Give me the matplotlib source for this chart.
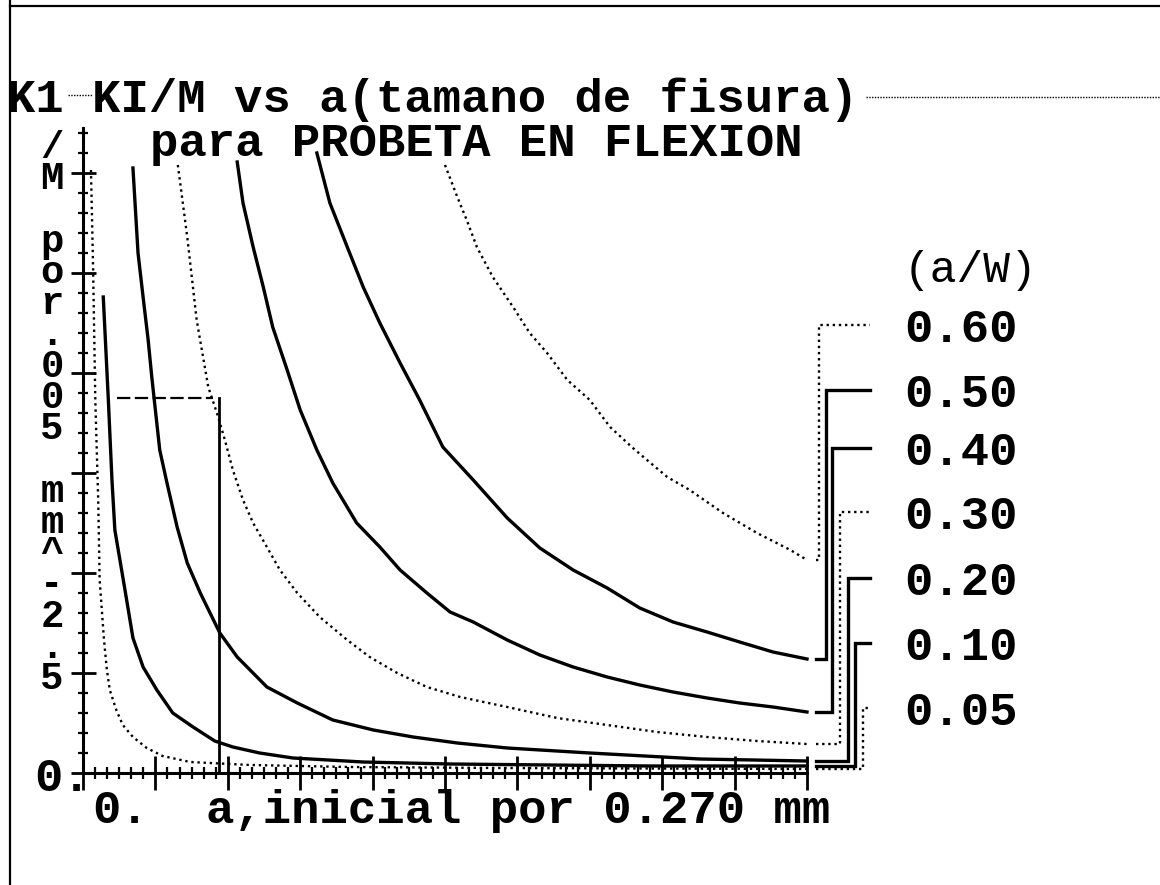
import matplotlib
matplotlib.use("Agg")
import matplotlib.pyplot as plt
from matplotlib.lines import Line2D
from matplotlib.ticker import MultipleLocator

# ---- data: K1/M versus initial crack size, one curve per a/W ratio ----
ratios = ["0.05", "0.10", "0.20", "0.30", "0.40", "0.50", "0.60"]

a_005 = [0.11, 0.14, 0.17, 0.21, 0.23, 0.29, 0.33, 0.37, 0.46, 0.55, 0.69, 0.88,
         1.10, 1.48, 2.31, 3.69, 5.76, 10.0]
k_005 = [6.03, 5.03, 3.73, 2.73, 1.93, 1.33, 1.03, 0.83, 0.63, 0.48, 0.36, 0.25,
         0.17, 0.11, 0.08, 0.06, 0.05, 0.04]

a_010 = [0.28, 0.35, 0.40, 0.44, 0.51, 0.58, 0.69, 0.83, 1.02, 1.24, 1.52, 1.82,
         2.07, 2.44, 2.90, 3.87, 5.07, 6.45, 7.83, 10.0]
k_010 = [4.76, 3.73, 2.93, 2.43, 2.13, 1.83, 1.35, 1.06, 0.83, 0.60, 0.46, 0.32,
         0.26, 0.20, 0.15, 0.11, 0.09, 0.08, 0.07, 0.07]

a_020 = [0.69, 0.76, 0.83, 0.90, 0.95, 1.06, 1.16, 1.30, 1.44, 1.62, 1.89, 2.13,
         2.54, 2.96, 3.45, 4.01, 4.56, 5.17, 5.86, 7.00, 8.52, 10.0]
k_020 = [6.05, 5.20, 4.76, 4.33, 3.96, 3.23, 2.90, 2.46, 2.10, 1.80, 1.40, 1.16,
         0.86, 0.70, 0.53, 0.43, 0.36, 0.30, 0.25, 0.20, 0.14, 0.12]

a_030 = [1.31, 1.44, 1.57, 1.73, 1.85, 1.96, 2.07, 2.21, 2.35, 2.54, 2.72, 2.96,
         3.27, 3.65, 3.96, 4.34, 4.75, 5.21, 5.86, 6.55, 7.24, 7.93, 8.62, 9.31, 10.0]
k_030 = [6.08, 5.36, 4.53, 3.86, 3.60, 3.33, 3.03, 2.73, 2.50, 2.26, 2.03, 1.80,
         1.56, 1.33, 1.16, 1.00, 0.86, 0.76, 0.66, 0.55, 0.48, 0.41, 0.36, 0.32, 0.29]

a_040 = [2.13, 2.21, 2.35, 2.49, 2.62, 2.82, 3.00, 3.23, 3.45, 3.78, 4.10, 4.38,
         4.75, 5.07, 5.39, 5.86, 6.31, 6.77, 7.24, 7.69, 8.15, 8.62, 9.07, 9.53, 10.0]
k_040 = [6.11, 5.70, 5.26, 4.86, 4.46, 4.03, 3.63, 3.23, 2.90, 2.50, 2.26, 2.03,
         1.80, 1.61, 1.51, 1.33, 1.18, 1.06, 0.96, 0.88, 0.81, 0.75, 0.70, 0.66, 0.61]

a_050 = [3.23, 3.41, 3.65, 3.87, 4.10, 4.38, 4.65, 4.97, 5.39, 5.86, 6.31, 6.77,
         7.24, 7.69, 8.15, 8.62, 9.07, 9.53, 10.0]
k_050 = [6.20, 5.70, 5.26, 4.86, 4.50, 4.10, 3.73, 3.26, 2.93, 2.55, 2.25, 2.03,
         1.85, 1.65, 1.51, 1.41, 1.31, 1.21, 1.14]

a_060 = [5.00, 5.17, 5.30, 5.44, 5.66, 5.94, 6.17, 6.41, 6.69, 7.00, 7.28, 7.58,
         7.79, 8.07, 8.38, 8.84, 9.31, 9.77, 10.0]
k_060 = [6.08, 5.76, 5.53, 5.26, 4.96, 4.66, 4.40, 4.20, 3.93, 3.73, 3.46, 3.26,
         3.13, 2.96, 2.83, 2.60, 2.40, 2.23, 2.13]

# reference cursor drawn on the chart
cursor_a0, cursor_a, cursor_k = 0.47, 1.88, 3.75

# ---- layout ----
W, H = 1160, 885
def fx(px):
    return px / W
def fy(py):
    return 1 - py / H

FONT = "Liberation Mono"
FS = 34

curves = [(a_005, k_005), (a_010, k_010), (a_020, k_020), (a_030, k_030),
          (a_040, k_040), (a_050, k_050), (a_060, k_060)]
dotted = [True, False, False, True, False, False, True]
label_y = [0.60, 1.25, 1.90, 2.56, 3.20, 3.78, 4.43]
bracket_x = [10.77, 10.66, 10.57, 10.46, 10.35, 10.26, 10.17]

fig = plt.figure(figsize=(W / 100, H / 100), dpi=100)
fig.patch.set_facecolor("white")

ax = fig.add_axes([fx(83), fy(773), fx(807) - fx(83), 645 / H])
ax.set_xlim(0, 10)
ax.set_ylim(0, 6.45)
ax.set_facecolor("none")
for s in ("top", "right"):
    ax.spines[s].set_visible(False)
for s in ("left", "bottom"):
    ax.spines[s].set_linewidth(2.2)
    ax.spines[s].set_color("black")

ax.xaxis.set_major_locator(MultipleLocator(1))
ax.xaxis.set_minor_locator(MultipleLocator(1 / 6))
ax.yaxis.set_major_locator(MultipleLocator(1))
ax.yaxis.set_minor_locator(MultipleLocator(0.2))
ax.tick_params(axis="x", which="major", direction="inout", length=24, width=2.0,
               labelbottom=False)
ax.tick_params(axis="x", which="minor", direction="inout", length=8, width=1.6)
ax.tick_params(axis="y", which="major", direction="inout", length=18, width=2.0,
               labelleft=False)
ax.tick_params(axis="y", which="minor", direction="inout", length=7, width=1.6)

for (a, k), dot, ly, bx in zip(curves, dotted, label_y, bracket_x):
    if dot:
        kw = dict(color="black", lw=1.7, linestyle=(0, (1, 1.6)))
    else:
        kw = dict(color="black", lw=2.4, linestyle="-")
    ax.plot(a, k, clip_on=False, **kw)
    # connector from curve end to its ratio label
    ax.plot([10.12, bx, bx, 10.87], [k[-1], k[-1], ly + 0.05, ly + 0.05],
            clip_on=False, solid_joinstyle="miter", **kw)

# cursor
ax.plot([cursor_a0, cursor_a - 0.08], [cursor_k, cursor_k], color="black", lw=1.6,
        linestyle=(0, (6, 2)))
ax.plot([cursor_a, cursor_a], [cursor_k, 0], color="black", lw=2.0)

# ---- frame lines ----
fig.add_artist(Line2D([fx(10), fx(1160)], [fy(6), fy(6)], color="black", lw=1.6))
fig.add_artist(Line2D([fx(10), fx(10)], [fy(0), fy(885)], color="black", lw=1.6))
fig.add_artist(Line2D([fx(68), fx(92)], [fy(95), fy(95)], color="black", lw=1.0,
                      linestyle=(0, (1, 1))))
fig.add_artist(Line2D([fx(866), fx(1160)], [fy(97), fy(97)], color="black", lw=1.0,
                      linestyle=(0, (1, 1))))

# ---- text ----
tk = dict(family=FONT, weight="bold", fontsize=FS, color="black", va="baseline",
          ha="left")
fig.text(fx(7), fy(112), "K1 KI/M vs a(tamano de fisura)", **tk)
fig.text(fx(150), fy(156), "para PROBETA EN FLEXION", **tk)
fig.text(fx(34), fy(791), "0.", **tk)
fig.text(fx(92), fy(823), "0.", **tk)
fig.text(fx(206), fy(823), "a,inicial por 0.270 mm", **tk)

ylab = "/M por.005 mm^-2.5"
fig.text(fx(52), fy(130), "\n".join(ylab), family=FONT, weight="bold", fontsize=28,
         ha="center", va="top", multialignment="center", linespacing=0.83)

fig.text(fx(904), fy(282), "(a/W)", family=FONT, fontsize=32, color="black",
         ha="left", va="baseline")
for r, ly in zip(ratios, label_y):
    fig.text(fx(904), fy(773 - ly * 100 + 12), r, **tk)

fig.savefig("out.png", dpi=100, facecolor="white")
